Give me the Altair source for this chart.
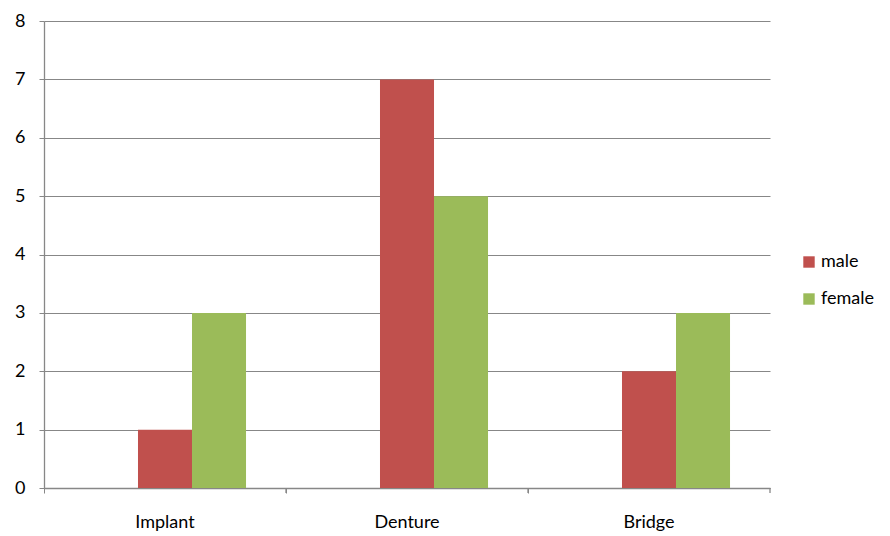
import altair as alt
import pandas as pd

categories = ["Implant", "Denture", "Bridge"]
male = [1, 7, 2]
female = [3, 5, 3]
series = ["male", "female"]
colors = ["#C0504D", "#9BBB59"]

rows = []
for i, c in enumerate(categories):
    rows.append({"cat": c, "series": "male", "value": male[i]})
    rows.append({"cat": c, "series": "female", "value": female[i]})
df = pd.DataFrame(rows)
cats_df = pd.DataFrame({"cat": categories})

FONT = "Lato"
GRAY = "#878787"
FS = 18

x_enc = alt.X("cat:N", sort=categories, title=None,
              scale=alt.Scale(paddingInner=0, paddingOuter=0),
              axis=alt.Axis(bandPosition=0, labelAngle=0, labelFont=FONT, labelFontSize=FS,
                            labelColor="#000000", labelPadding=20, tickSize=5, tickColor=GRAY,
                            domainColor=GRAY, domainWidth=1.3, grid=False))

bars = alt.Chart(df).mark_bar().encode(
    x=x_enc,
    xOffset=alt.XOffset("series:N", scale=alt.Scale(domain=["", "male", "female"],
                                                    paddingInner=0, paddingOuter=0.74)),
    y=alt.Y("value:Q", title=None,
            scale=alt.Scale(domain=[0, 8]),
            axis=alt.Axis(values=list(range(0, 9)), labelFont=FONT, labelFontSize=FS,
                          labelColor="#000000", labelPadding=14, tickSize=5, tickColor=GRAY,
                          domainColor=GRAY, domainWidth=1.3, gridColor=GRAY, gridWidth=1.2)),
    color=alt.Color("series:N", scale=alt.Scale(domain=series, range=colors),
                    legend=alt.Legend(title=None, orient="none", legendX=756, legendY=232,
                                      symbolType="square", symbolSize=130, symbolStrokeWidth=0,
                                      labelFont=FONT, labelFontSize=FS, labelColor="#000000",
                                      rowPadding=19, labelOffset=3)),
)

end_ticks = alt.Chart(cats_df).mark_rule(color=GRAY, strokeWidth=1.3).encode(
    x=alt.X("cat:N", sort=categories, bandPosition=1),
    y=alt.value(467),
    y2=alt.value(472),
)

chart = alt.layer(bars, end_ticks).properties(
    width=726, height=467,
    background="white",
    padding={"left": 44, "top": 21, "right": 120, "bottom": 48},
    autosize=alt.AutoSizeParams(type="none"),
).configure_view(strokeWidth=0, stroke="transparent")

chart.save("out.html", embed_options={"renderer": "svg", "actions": False})
